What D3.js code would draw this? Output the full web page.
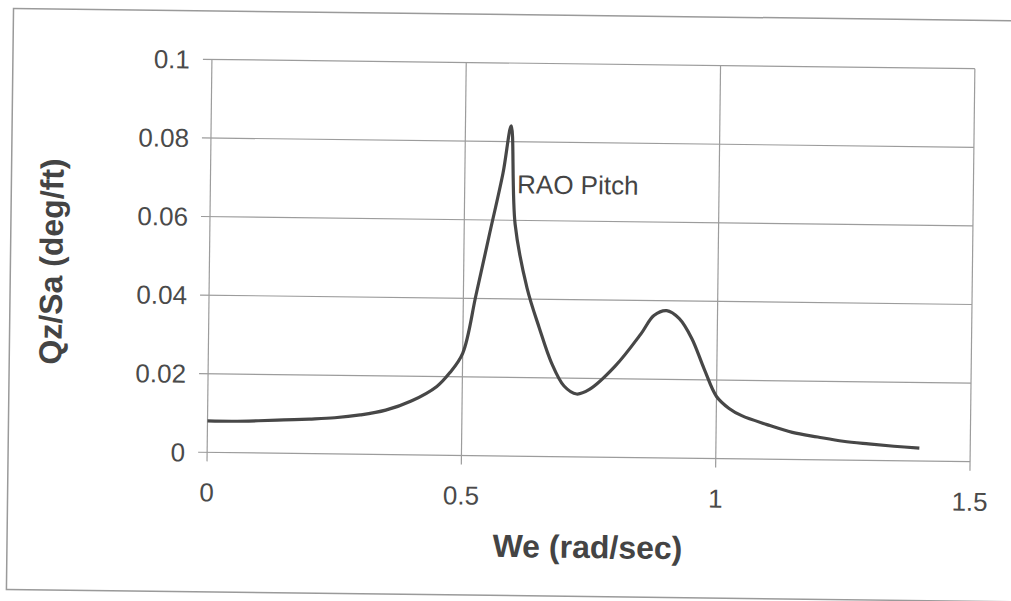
<!DOCTYPE html>
<html lang="en">
<head>
    <meta charset="UTF-8">
    <title>RAO Pitch</title>
    <script type="text/javascript" src="https://cdn.jsdelivr.net/npm/d3@7"></script>
    <style type="text/css">
        body { margin: 0; background: #fff; }
        text { font-family: "Liberation Sans", Arial, sans-serif; }
    </style>
</head>
<body>
    <script type="text/javascript">

        // data
        var we = [0, 0.05, 0.1, 0.15, 0.2, 0.25, 0.3, 0.35, 0.4, 0.45, 0.475, 0.5, 0.525, 0.55, 0.575, 0.59,
                  0.6, 0.625, 0.65, 0.675, 0.7, 0.725, 0.75, 0.8, 0.85, 0.875, 0.9, 0.925, 0.95, 0.975,
                  1.0, 1.025, 1.05, 1.1, 1.15, 1.2, 1.25, 1.3, 1.35, 1.4];
        var rao = [0.008, 0.008, 0.0082, 0.0085, 0.0088, 0.0092, 0.0100, 0.0113, 0.0137, 0.0175, 0.021, 0.026, 0.041, 0.0565, 0.072, 0.084,
                   0.059, 0.0428, 0.0327, 0.0238, 0.018, 0.016, 0.0172, 0.0232, 0.0315, 0.0362, 0.0375, 0.0355, 0.0305, 0.0228,
                   0.0158, 0.0128, 0.011, 0.0088, 0.0069, 0.0058, 0.0048, 0.0042, 0.0037, 0.0033];

        var xTicks = [0, 0.5, 1, 1.5];
        var xTickLabels = ["0", "0.5", "1", "1.5"];
        var yTicks = [0, 0.02, 0.04, 0.06, 0.08, 0.1];
        var yTickLabels = ["0", "0.02", "0.04", "0.06", "0.08", "0.1"];

        var seriesName = "RAO Pitch";
        var xTitle = "We (rad/sec)";
        var yTitle = "Qz/Sa (deg/ft)";

        //Width and height
        var w = 1011;
        var h = 601;
        var padL = 209, padR = 972, padT = 63, padB = 456;

        var svg = d3.select("body")
            .append("svg")
            .attr("width", w)
            .attr("height", h);

        // the scan is a little tilted
        var g = svg.append("g")
            .attr("transform", "rotate(0.7, 505, 300)");

        // outer frame
        g.append("rect")
            .attr("x", 10)
            .attr("y", 14.5)
            .attr("width", 1060)
            .attr("height", 581)
            .attr("fill", "none")
            .attr("stroke", "#9a9a9a")
            .attr("stroke-width", 1.5);

        var x = d3.scaleLinear().domain([0, 1.5]).range([padL, padR]);
        var y = d3.scaleLinear().domain([0, 0.1]).range([padB, padT]);

        // grid
        g.selectAll("line.hgrid")
            .data(yTicks)
            .enter()
            .append("line")
            .attr("class", "hgrid")
            .attr("x1", padL - 9)
            .attr("x2", padR)
            .attr("y1", function(d) { return y(d); })
            .attr("y2", function(d) { return y(d); })
            .attr("stroke", "#9c9c9c")
            .attr("stroke-width", 1.2);

        g.selectAll("line.vgrid")
            .data(xTicks)
            .enter()
            .append("line")
            .attr("class", "vgrid")
            .attr("x1", function(d) { return x(d); })
            .attr("x2", function(d) { return x(d); })
            .attr("y1", padT)
            .attr("y2", padB + 9)
            .attr("stroke", "#9c9c9c")
            .attr("stroke-width", 1.2);

        // tick labels
        g.selectAll("text.ylab")
            .data(yTicks)
            .enter()
            .append("text")
            .attr("class", "ylab")
            .text(function(d, i) { return yTickLabels[i]; })
            .attr("x", padL - 22)
            .attr("y", function(d) { return y(d) + 9.3; })
            .attr("text-anchor", "end")
            .attr("font-size", "26px")
            .attr("fill", "#4a4a4a");

        g.selectAll("text.xlab")
            .data(xTicks)
            .enter()
            .append("text")
            .attr("class", "xlab")
            .text(function(d, i) { return xTickLabels[i]; })
            .attr("x", function(d) { return x(d); })
            .attr("y", padB + 49)
            .attr("text-anchor", "middle")
            .attr("font-size", "26px")
            .attr("fill", "#4a4a4a");

        // axis titles
        g.append("text")
            .text(xTitle)
            .attr("x", (padL + padR) / 2)
            .attr("y", 557)
            .attr("text-anchor", "middle")
            .attr("font-size", "32px")
            .attr("font-weight", "bold")
            .attr("fill", "#444");

        g.append("text")
            .text(yTitle)
            .attr("transform", "translate(62, 267) rotate(-90)")
            .attr("text-anchor", "middle")
            .attr("font-size", "32px")
            .attr("font-weight", "bold")
            .attr("fill", "#444");

        // the curve
        var line = d3.line()
            .x(function(d) { return x(d[0]); })
            .y(function(d) { return y(d[1]); })
            .curve(d3.curveCatmullRom.alpha(0.5));

        g.append("path")
            .datum(d3.zip(we, rao))
            .attr("d", line)
            .attr("fill", "none")
            .attr("stroke", "#474747")
            .attr("stroke-width", 3.2)
            .attr("stroke-linejoin", "round");

        // series label
        g.append("text")
            .text(seriesName)
            .attr("x", x(0.603))
            .attr("y", y(0.0669))
            .attr("font-size", "26px")
            .attr("fill", "#444");

    </script>
</body>
</html>
